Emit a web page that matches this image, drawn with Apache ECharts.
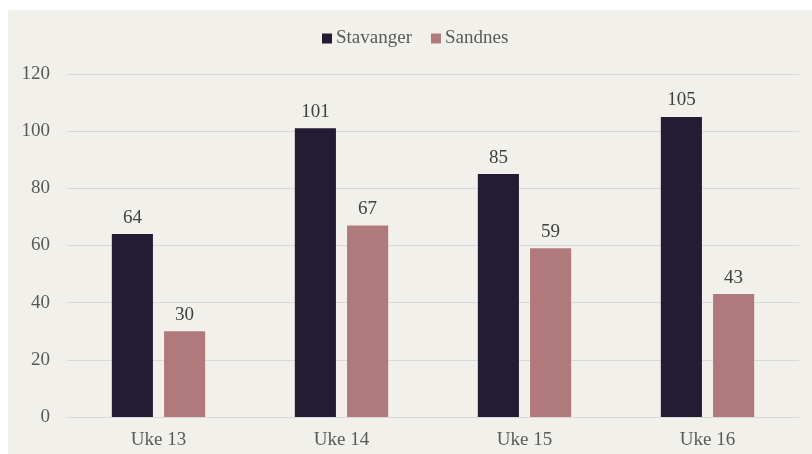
<!DOCTYPE html>
<html>
<head>
<meta charset="utf-8">
<script src="https://cdn.jsdelivr.net/npm/echarts@6/dist/echarts.min.js"></script>
<style>
  html, body { margin: 0; padding: 0; background: #ffffff; width: 812px; height: 454px; overflow: hidden; }
  #chart { position: absolute; left: 8px; top: 10px; width: 804px; height: 444px; background: #f1f0ea; }
</style>
</head>
<body>
<div id="chart"></div>
<script>
const categories = ['Uke 13', 'Uke 14', 'Uke 15', 'Uke 16'];
const stavanger = [64, 101, 85, 105];
const sandnes = [30, 67, 59, 43];
const yTicks = [0, 20, 40, 60, 80, 100, 120];

const chart = echarts.init(document.getElementById('chart'), null, { renderer: 'canvas' });
const font = '"Liberation Serif", "Times New Roman", serif';
chart.setOption({
  backgroundColor: '#f1f0ea',
  textStyle: { fontFamily: font },
  legend: {
    top: 14,
    left: 309,
    itemWidth: 10,
    itemHeight: 10,
    itemGap: 19,
    icon: 'rect',
    textStyle: { fontFamily: font, fontSize: 19, color: '#595959', padding: [0, 0, 0, -1] },
    data: ['Stavanger', 'Sandnes']
  },
  grid: { left: 59, right: 13, top: 64, bottom: 37, containLabel: false },
  xAxis: {
    type: 'category',
    data: categories,
    axisLine: { show: true, lineStyle: { color: '#d9d9d9', width: 1 } },
    axisTick: { show: false },
    axisLabel: { fontFamily: font, fontSize: 19, color: '#595959', margin: 14 }
  },
  yAxis: {
    type: 'value',
    min: yTicks[0],
    max: yTicks[yTicks.length - 1],
    interval: yTicks[1] - yTicks[0],
    axisLine: { show: false },
    axisTick: { show: false },
    splitLine: { lineStyle: { color: '#d9d9d9', width: 1 } },
    axisLabel: { fontFamily: font, fontSize: 19, color: '#595959', margin: 17 }
  },
  series: [
    {
      name: 'Stavanger', type: 'bar', data: stavanger,
      barGap: '27%', barCategoryGap: '49%',
      itemStyle: { color: '#221d35' },
      label: { show: true, position: 'top', distance: 7, fontFamily: font, fontSize: 19, color: '#404040' }
    },
    {
      name: 'Sandnes', type: 'bar', data: sandnes,
      barGap: '27%', barCategoryGap: '49%',
      itemStyle: { color: '#b07a7d' },
      label: { show: true, position: 'top', distance: 7, fontFamily: font, fontSize: 19, color: '#404040' }
    }
  ]
});
</script>
</body>
</html>
